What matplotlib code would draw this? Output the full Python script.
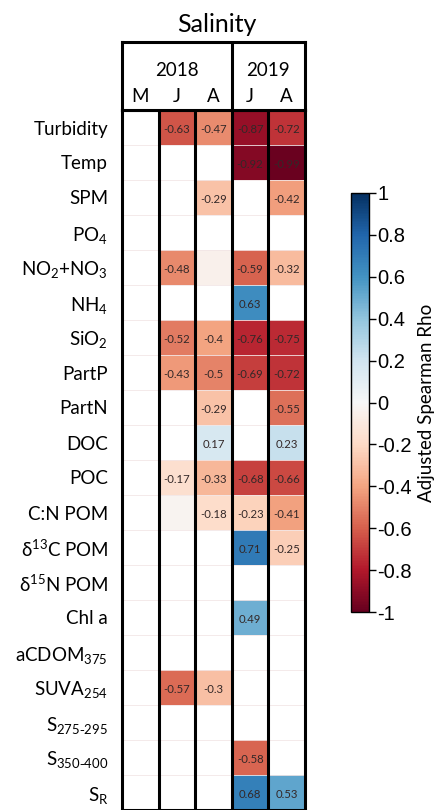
import numpy as np
import matplotlib
matplotlib.use('Agg')
import matplotlib.pyplot as plt

plt.rcParams['font.family'] = ['Lato', 'DejaVu Sans']
plt.rcParams['mathtext.default'] = 'regular'

# --- data ---
variables = ['Turbidity', 'Temp', 'SPM', r'PO$_4$', r'NO$_2$+NO$_3$', r'NH$_4$',
             r'SiO$_2$', 'PartP', 'PartN', 'DOC', 'POC', 'C:N POM',
             r'δ$^{13}$C POM', r'δ$^{15}$N POM', 'Chl a', r'aCDOM$_{375}$',
             r'SUVA$_{254}$', r'S$_{275\text{-}295}$', r'S$_{350\text{-}400}$', r'S$_R$']
years = ['2018', '2019']
months = ['M', 'J', 'A', 'J', 'A']
nan = np.nan
# columns: 2018 M, 2018 J, 2018 A, 2019 J, 2019 A
rho = np.array([
    [nan, -0.63, -0.47, -0.87, -0.72],
    [nan, nan, nan, -0.92, -0.99],
    [nan, nan, -0.29, nan, -0.42],
    [nan, nan, nan, nan, nan],
    [nan, -0.48, -0.05, -0.59, -0.32],
    [nan, nan, nan, 0.63, nan],
    [nan, -0.52, -0.4, -0.76, -0.75],
    [nan, -0.43, -0.5, -0.69, -0.72],
    [nan, nan, -0.29, nan, -0.55],
    [nan, nan, 0.17, nan, 0.23],
    [nan, -0.17, -0.33, -0.68, -0.66],
    [nan, -0.03, -0.18, -0.23, -0.41],
    [nan, nan, nan, 0.71, -0.25],
    [nan, nan, nan, nan, nan],
    [nan, nan, nan, 0.49, nan],
    [nan, nan, nan, nan, nan],
    [nan, -0.57, -0.3, nan, nan],
    [nan, nan, nan, nan, nan],
    [nan, nan, nan, -0.58, nan],
    [nan, nan, nan, 0.68, 0.53],
])
# small tints drawn without a number
hidden = [(4, 2), (11, 1)]
cbar_ticks = [-1, -0.8, -0.6, -0.4, -0.2, 0, 0.2, 0.4, 0.6, 0.8, 1]

W, H = 439, 810
fig = plt.figure(figsize=(W / 100, H / 100), dpi=100)

def px(l, t, r, b):
    return [l / W, 1 - b / H, (r - l) / W, (b - t) / H]

cmap = plt.get_cmap('RdBu').copy()
cmap.set_bad('white')

# --- heatmap ---
ax = fig.add_axes(px(122, 110, 305, 810))
nrow, ncol = rho.shape
mesh = ax.pcolormesh(np.ma.masked_invalid(rho), cmap=cmap, vmin=-1, vmax=1)
ax.set_xlim(0, ncol)
ax.set_ylim(nrow, 0)
for i in range(nrow):
    for j in range(ncol):
        v = rho[i, j]
        if np.isnan(v) or (i, j) in hidden:
            continue
        ax.text(j + 0.5, i + 0.55, f'{v:g}', ha='center', va='center',
                fontsize=8.2, color='#332828')
for i in range(1, nrow):
    ax.axhline(i, color='#f3e6e6', lw=0.6, zorder=1)
for j in range(1, ncol):
    ax.axvline(j, color='black', lw=2.2, zorder=3)
ax.set_xticks([])
ax.set_yticks(np.arange(nrow) + 0.5)
ax.set_yticklabels(variables, fontsize=13.5)
ax.tick_params(axis='y', length=0, pad=10)
for s in ax.spines.values():
    s.set_linewidth(2.2)

# --- header box ---
hx = fig.add_axes(px(122, 42, 305, 110))
hx.set_xlim(0, ncol)
hx.set_ylim(0, 1)
hx.set_xticks([])
hx.set_yticks([])
for s in hx.spines.values():
    s.set_linewidth(2.2)
hx.axvline(3, color='black', lw=2.2)
hx.text(1.5, 0.58, years[0], ha='center', va='center', fontsize=13.5)
hx.text(4.0, 0.58, years[1], ha='center', va='center', fontsize=13.5)
for j, m in enumerate(months):
    hx.text(j + 0.5, 0.2, m, ha='center', va='center', fontsize=13.5)

fig.text(217 / W, 1 - 25 / H, 'Salinity', ha='center', va='center', fontsize=18)

# --- colorbar ---
cax = fig.add_axes(px(351, 193, 369, 612))
cb = fig.colorbar(mesh, cax=cax, ticks=cbar_ticks)
cb.ax.set_yticklabels([f'{t:g}' for t in cbar_ticks],
                      family=['Liberation Sans'], fontsize=14.5)
cb.ax.tick_params(length=5, width=1, pad=1)
cb.outline.set_linewidth(1)
cb.set_label('Adjusted Spearman Rho', fontsize=13.5, labelpad=4)

fig.savefig('out.png', dpi=100)
